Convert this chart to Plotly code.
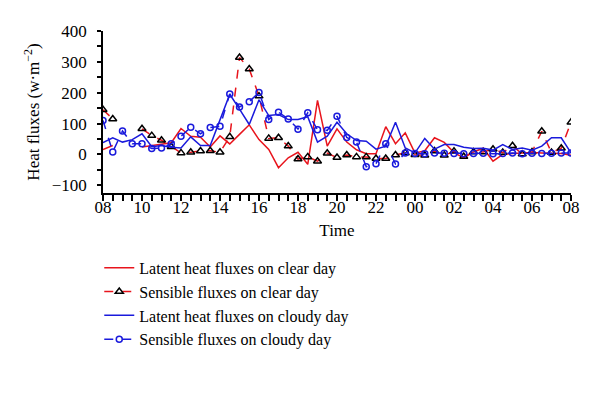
import plotly.graph_objects as go

# half-hourly times from 08:00 to 08:00 next day (hours after 08:00)
hours = [i * 0.5 for i in range(49)]
tick_vals = [0, 2, 4, 6, 8, 10, 12, 14, 16, 18, 20, 22, 24]
tick_text = ["08", "10", "12", "14", "16", "18", "20", "22", "00", "02", "04", "06", "08"]

latent_clear = [16, 29, None, None, 24, 29, 35, 38, 84, 59, 56, 24, 60, 34, 65, 96,
                48, 16, -43, -11, 7, -32, 175, 27, 83, 40, 15, 2, 2, 90, 35, 70,
                4, 12, 54, 39, 6, -11, 8, 20, -22, 0, 3, 5, 6, 5, 5, 3, -3]
sensible_clear = [145, 115, None, None, 83, 61, 46, 25, 5, 7, 11, 12, 7, 57, 314, 277,
                  189, 52, 54, 27, -15, -8, -22, 4, -10, -2, -8, -8, -13, -13, -2, 5,
                  -1, -3, 11, -3, 10, -7, 8, 8, 17, 6, 28, 1, 8, 75, 6, 20, 104]
latent_cloudy = [38, 54, 40, 48, 67, 25, 29, 23, 21, 57, 29, 29, 112, 195, 147, 97,
                 177, 126, 129, 113, 113, 122, 40, 59, 104, 67, 45, 43, 17, 27, 104, 21,
                 5, 52, 17, 32, 32, 23, 19, 20, 14, 32, 16, 21, 14, 27, 54, 54, 5]
sensible_cloudy = [110, 8, 76, 35, 35, 19, 21, 35, 59, 88, 67, 87, 91, 196, 154, 171,
                   201, 113, 137, 115, 82, 135, 80, 78, 124, 55, 40, -40, -30, 35, -31, 5,
                   3, 2, 5, 4, 3, 2, 3, 4, 2, 3, 5, 2, 4, 3, 4, 5, 5]

FONT = "Liberation Serif"

fig = go.Figure()
fig.add_trace(go.Scatter(x=hours, y=latent_clear, mode="lines", name="Latent heat fluxes on clear day",
                         line=dict(color="#e8141c", width=1.5), connectgaps=False))
fig.add_trace(go.Scatter(x=hours, y=sensible_clear, mode="lines+markers", name="Sensible fluxes on clear day",
                         line=dict(color="#e8141c", width=1.5, dash="dash"), connectgaps=False,
                         marker=dict(symbol="triangle-up-open", size=7, color="black",
                                     line=dict(color="black", width=1.5))))
fig.add_trace(go.Scatter(x=hours, y=latent_cloudy, mode="lines", name="Latent heat fluxes on cloudy day",
                         line=dict(color="#1a1adc", width=1.5)))
fig.add_trace(go.Scatter(x=hours, y=sensible_cloudy, mode="lines+markers", name="Sensible fluxes on cloudy day",
                         line=dict(color="#1a1adc", width=1.5, dash="dash"),
                         marker=dict(symbol="circle-open", size=6, color="#1a1adc",
                                     line=dict(color="#1a1adc", width=1.5))))

fig.update_layout(
    width=600, height=394,
    margin=dict(l=95, r=37, t=23, b=209, autoexpand=False),
    paper_bgcolor="white", plot_bgcolor="white",
    font=dict(family=FONT, size=17, color="black"),
    showlegend=True,
    legend=dict(x=-0.008, y=-0.357, xanchor="left", yanchor="top",
                font=dict(family=FONT, size=16, color="black"),
                tracegroupgap=0, itemwidth=30, bgcolor="rgba(0,0,0,0)"),
)
fig.update_xaxes(range=[0, 24], tickvals=tick_vals, ticktext=tick_text,
                 showgrid=False, zeroline=False, showline=True, linecolor="black", linewidth=1.5,
                 ticks="outside", ticklen=6, tickwidth=1.5, tickcolor="black",
                 ticklabelstandoff=-8,
                 minor=dict(dtick=0.5, ticks="outside", ticklen=6, tickwidth=1.5, tickcolor="black", showgrid=False),
                 title=dict(text="Time", font=dict(family=FONT, size=17), standoff=8),
                 tickfont=dict(family=FONT, size=17))
fig.update_yaxes(range=[-125, 400], tickvals=[-100, 0, 100, 200, 300, 400],
                 ticktext=["\u2212100", "0", "100", "200", "300", "400"],
                 showgrid=False, zeroline=False, showline=True, linecolor="black", linewidth=1.5,
                 ticks="outside", ticklen=4, tickwidth=1.5, tickcolor="black",
                 ticklabelstandoff=7,
                 minor=dict(tickvals=[-50, 50, 150, 250, 350], ticks="outside", ticklen=4,
                            tickwidth=1.5, tickcolor="black", showgrid=False),
                 title=dict(text="Heat fluxes (w\u00b7m<sup>\u22122</sup>)", font=dict(family=FONT, size=17), standoff=8),
                 tickfont=dict(family=FONT, size=17))

fig.write_html("out.html")
